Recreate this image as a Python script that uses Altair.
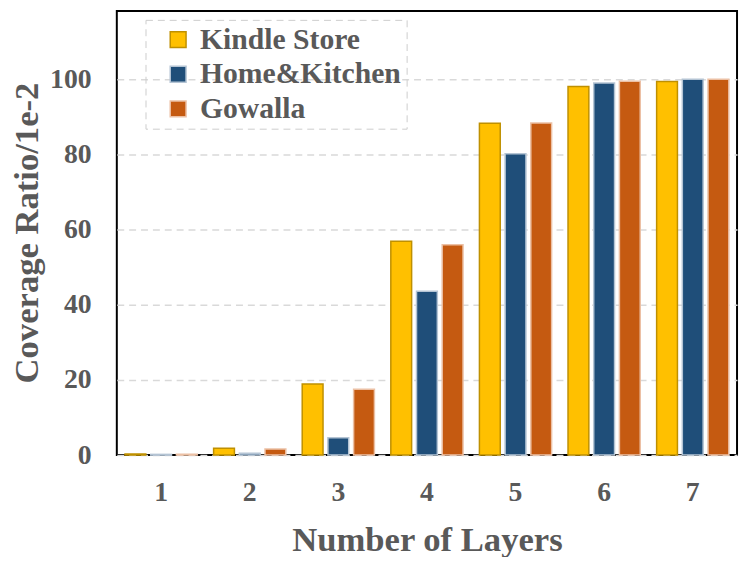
import altair as alt
import pandas as pd

layers = ["1", "2", "3", "4", "5", "6", "7"]
series = ["Kindle Store", "Home&Kitchen", "Gowalla"]
kindle = [0.3, 1.8, 18.9, 56.9, 88.3, 98.1, 99.4]
home = [0.2, 0.5, 4.6, 43.6, 80.2, 99.0, 100.0]
gowalla = [0.2, 1.6, 17.5, 56.0, 88.4, 99.5, 100.0]

fills = ["#FFC000", "#1F4E79", "#C55A11"]
strokes = ["#BF9000", "#B4C4D4", "#ECC0A4"]

rows = []
for s, vals in zip(series, [kindle, home, gowalla]):
    for l, v in zip(layers, vals):
        rows.append({"layer": l, "series": s, "value": v})
df = pd.DataFrame(rows)

FONT = "'Liberation Serif', 'Times New Roman', 'DejaVu Serif', serif"
GRAY = "#595959"

chart = alt.Chart(df).mark_bar(strokeWidth=1.5).encode(
    x=alt.X("layer:N", sort=layers,
            scale=alt.Scale(paddingInner=0.185, paddingOuter=0.0925),
            axis=alt.Axis(title="Number of Layers", labelAngle=0, ticks=False,
                          domain=False, grid=False, labelPadding=24,
                          titleY=85, titleBaseline="middle")),
    xOffset=alt.XOffset("series:N", sort=series,
                        scale=alt.Scale(paddingInner=0.19, paddingOuter=0)),
    y=alt.Y("value:Q",
            scale=alt.Scale(domain=[0, 118.2], nice=False),
            axis=alt.Axis(title="Coverage Ratio/1e-2", values=[0, 20, 40, 60, 80, 100],
                          ticks=False, domain=False, grid=True, labelPadding=26,
                          gridDash=[7, 5], gridColor="#D9D9D9", gridWidth=1.5,
                          titleX=-91, titleY=224, titleAngle=270,
                          titleBaseline="middle", titleAlign="center")),
    fill=alt.Fill("series:N", sort=series,
                  scale=alt.Scale(domain=series, range=fills),
                  legend=alt.Legend(title=None, orient="none", legendX=29, legendY=9)),
    stroke=alt.Stroke("series:N", sort=series,
                      scale=alt.Scale(domain=series, range=strokes),
                      legend=alt.Legend(title=None, orient="none", legendX=29, legendY=9)),
).properties(
    width=627, height=449,
    autosize=alt.AutoSizeParams(type="none"),
    padding={"left": 110, "top": 0, "right": 3, "bottom": 100},
).configure_view(
    stroke="black", strokeWidth=2
).configure_axis(
    labelFont=FONT, labelFontSize=28, labelFontWeight="bold", labelColor=GRAY,
    titleFont=FONT, titleFontSize=35, titleFontWeight="bold", titleColor=GRAY,
).configure_legend(
    symbolType="square", symbolSize=256,
    labelFontSize=30, labelFont=FONT, labelFontWeight="bold",
    labelColor=GRAY, labelOffset=7, rowPadding=5, labelLimit=0,
    padding=5, symbolOffset=13,
    strokeColor="#CCCCCC", strokeDash=[7, 5],
    symbolStrokeWidth=1.5,
)

chart.save("out.html", embed_options={"renderer": "svg", "actions": False})
